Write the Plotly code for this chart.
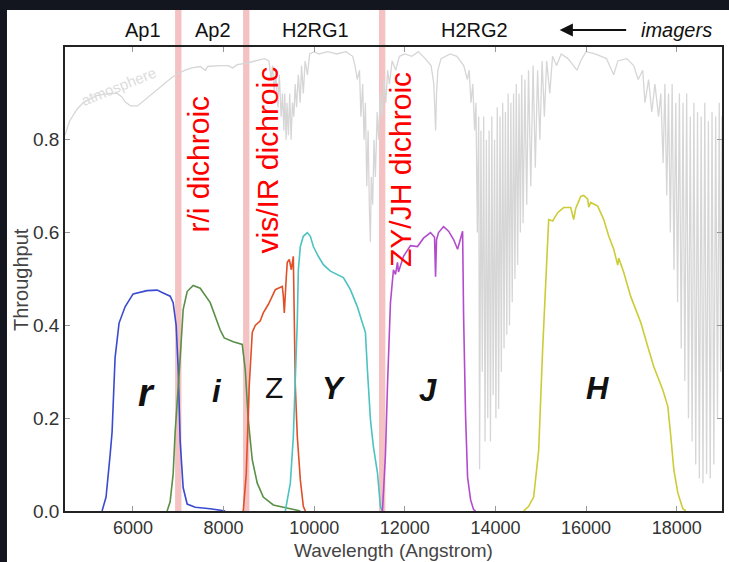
import plotly.graph_objects as go

# ---------------- data ----------------
atm_wl = [4500, 4600, 4765, 4900, 5053, 5200, 5340, 5500, 5649, 5750, 5826, 5950, 6100, 6250, 6400,
          6600, 6750, 6865, 7000, 7152, 7300, 7484, 7600, 7650, 7926, 8100, 8200, 8300, 8500, 8700,
          8900, 9000, 9050, 9080, 9120, 9150, 9200, 9230, 9270, 9300, 9330, 9350, 9380, 9400, 9430,
          9460, 9490, 9520, 9550, 9580, 9610, 9650, 9690, 9720, 9760, 9800, 9850, 9900, 10000, 10100,
          10300, 10500, 10700, 10850, 10900, 10950, 11000, 11030, 11070, 11100, 11130, 11160, 11190,
          11220, 11240, 11260, 11290, 11320, 11350, 11390, 11420, 11460, 11500, 11540, 11580, 11620,
          11660, 11720, 11800, 11880, 12000, 12150, 12300, 12450, 12580, 12640, 12680, 12700, 12730,
          12800, 13000, 13150, 13300, 13380, 13420, 13460, 13500, 13540, 13570, 13600, 13630, 13650,
          13680, 13710, 13740, 13770, 13800, 13830, 13860, 13890, 13920, 13950, 13980, 14010, 14040,
          14070, 14100, 14130, 14160, 14190, 14220, 14250, 14280, 14310, 14340, 14370, 14400, 14430,
          14460, 14490, 14520, 14550, 14580, 14610, 14650, 14690, 14730, 14780, 14830, 14880, 14930,
          14980, 15030, 15080, 15130, 15200, 15260, 15350, 15450, 15600, 15730, 15800, 15880, 16000,
          16200, 16450, 16610, 16700, 16900, 17050, 17150, 17250, 17300, 17380, 17450, 17520, 17600,
          17650, 17700, 17740, 17780, 17820, 17860, 17900, 17940, 17980, 18020, 18060, 18100, 18140,
          18180, 18220, 18260, 18300, 18340, 18380, 18420, 18460, 18500, 18540, 18580, 18620, 18660,
          18700, 18740, 18780, 18820, 18860, 18900, 18940, 18970, 19000]
atm_tr = [0.81, 0.84, 0.866, 0.88, 0.888, 0.895, 0.898, 0.9, 0.9, 0.893, 0.882, 0.873, 0.873, 0.885, 0.898,
          0.915, 0.927, 0.935, 0.943, 0.95, 0.955, 0.958, 0.95, 0.958, 0.96, 0.96, 0.955, 0.962, 0.965, 0.97,
          0.975, 0.97, 0.93, 0.96, 0.9, 0.95, 0.87, 0.94, 0.85, 0.9, 0.82, 0.9, 0.8, 0.88, 0.81,
          0.9, 0.8, 0.88, 0.85, 0.92, 0.87, 0.94, 0.88, 0.96, 0.9, 0.97, 0.94, 0.985, 0.99, 0.985,
          0.99, 0.985, 0.99, 0.98, 0.96, 0.93, 0.95, 0.85, 0.92, 0.8, 0.88, 0.7, 0.82,
          0.64, 0.58, 0.72, 0.66, 0.8, 0.72, 0.86, 0.8, 0.9, 0.85, 0.93, 0.88, 0.95,
          0.92, 0.97, 0.95, 0.98, 0.985, 0.98, 0.99, 0.975, 0.96, 0.92, 0.82, 0.9, 0.95,
          0.975, 0.985, 0.98, 0.96, 0.93, 0.95, 0.88, 0.92, 0.82, 0.88, 0.6, 0.85, 0.09,
          0.82, 0.3, 0.85, 0.15, 0.8, 0.2, 0.82, 0.15, 0.85, 0.25, 0.8, 0.2, 0.87,
          0.22, 0.85, 0.3, 0.88, 0.35, 0.86, 0.38, 0.9, 0.4, 0.88, 0.45, 0.9, 0.5,
          0.92, 0.53, 0.9, 0.6, 0.94, 0.62, 0.93, 0.66, 0.95, 0.7, 0.96, 0.74, 0.95,
          0.8, 0.97, 0.85, 0.97, 0.9, 0.98, 0.96, 0.985, 0.975, 0.96, 0.95, 0.97, 0.99,
          0.985, 0.975, 0.94, 0.97, 0.975, 0.96, 0.93, 0.95, 0.88, 0.93, 0.86, 0.92, 0.85,
          0.9, 0.75, 0.92, 0.68, 0.9, 0.6, 0.92, 0.52, 0.88, 0.45, 0.9, 0.35, 0.88,
          0.28, 0.9, 0.2, 0.85, 0.15, 0.88, 0.1, 0.86, 0.07, 0.85, 0.06, 0.88, 0.08,
          0.84, 0.07, 0.86, 0.1, 0.85, 0.2, 0.88, 0.3, 0.85]

r_wl = [5318, 5406, 5495, 5539, 5605, 5693, 5826, 6003, 6312, 6533, 6666, 6821, 6887, 6953, 6997,
        7042, 7108, 7196, 7373, 7705, 8036]
r_tr = [0.0, 0.03, 0.12, 0.17, 0.33, 0.405, 0.44, 0.468, 0.475, 0.476, 0.47, 0.463, 0.449, 0.40, 0.31,
        0.15, 0.05, 0.015, 0.008, 0.005, 0.0]

i_wl = [6754, 6820, 6887, 6931, 7042, 7108, 7196, 7329, 7484, 7705, 7926, 8014, 8213, 8412, 8478,
        8544, 8633, 8743, 8876, 9097, 9473, 9694]
i_tr = [0.0, 0.02, 0.08, 0.17, 0.33, 0.434, 0.473, 0.486, 0.48, 0.449, 0.39, 0.373, 0.365, 0.359, 0.305,
        0.197, 0.11, 0.06, 0.03, 0.013, 0.005, 0.0]

z_wl = [8434, 8500, 8566, 8633, 8699, 8810, 8876, 8986, 9075, 9141, 9207, 9296, 9318, 9340, 9384,
        9406, 9450, 9495, 9539, 9561, 9583, 9627, 9694, 9760, 9804]
z_tr = [0.0, 0.08, 0.27, 0.385, 0.40, 0.41, 0.427, 0.445, 0.463, 0.477, 0.48, 0.484, 0.463, 0.427, 0.505,
        0.536, 0.542, 0.52, 0.549, 0.41, 0.27, 0.16, 0.067, 0.01, 0.0]

y_wl = [9362, 9473, 9539, 9583, 9627, 9650, 9694, 9760, 9848, 9915, 9981, 10091, 10202, 10357, 10512,
        10644, 10799, 10953, 11064, 11130, 11174, 11241, 11307, 11396, 11462, 11506]
y_tr = [0.0, 0.06, 0.16, 0.27, 0.41, 0.52, 0.57, 0.592, 0.60, 0.592, 0.57, 0.549, 0.531, 0.517, 0.51,
        0.503, 0.477, 0.44, 0.405, 0.385, 0.305, 0.197, 0.138, 0.082, 0.009, 0.0]

j_wl = [11506, 11572, 11617, 11683, 11749, 11794, 11838, 11860, 11971, 12125, 12280, 12412, 12567,
        12656, 12678, 12700, 12744, 12855, 12966, 13076, 13165, 13209, 13275, 13297, 13341, 13385,
        13452, 13518, 13562]
j_tr = [0.0, 0.12, 0.27, 0.449, 0.52, 0.51, 0.536, 0.515, 0.549, 0.572, 0.57, 0.588, 0.60,
        0.59, 0.505, 0.585, 0.60, 0.613, 0.603, 0.585, 0.564, 0.58, 0.603, 0.42, 0.203, 0.073,
        0.024, 0.003, 0.0]

h_wl = [14622, 14733, 14843, 14954, 15042, 15108, 15152, 15175, 15263, 15373, 15506, 15661, 15727,
        15771, 15882, 15948, 16037, 16059, 16103, 16257, 16390, 16501, 16611, 16699, 16722, 16832,
        16987, 17208, 17363, 17495, 17694, 17805, 17871, 17937, 18025, 18136, 18202]
h_tr = [0.0, 0.01, 0.03, 0.13, 0.35, 0.49, 0.60, 0.628, 0.625, 0.643, 0.654, 0.654, 0.628,
        0.652, 0.678, 0.68, 0.672, 0.655, 0.665, 0.657, 0.628, 0.592, 0.564, 0.53, 0.545, 0.514,
        0.462, 0.406, 0.354, 0.311, 0.261, 0.225, 0.16, 0.089, 0.039, 0.005, 0.0]

dichroic_wl = [7000, 8500, 11500]
dichroic_labels = ["r/i dichroic", "vis/IR dichroic", "ZY/JH dichroic"]
dichroic_label_x = [7440, 8964, 11904]
dichroic_label_y = [0.747, 0.756, 0.736]

band_names = ["r", "i", "Z", "Y", "J", "H"]
band_label_x = [6290, 7859, 9119, 10445, 12522, 16257]
band_label_y = [0.255, 0.257, 0.266, 0.263, 0.26, 0.263]

camera_names = ["Ap1", "Ap2", "H2RG1", "H2RG2"]
camera_x = [6224, 7771, 10025, 13539]

x_ticks = [6000, 8000, 10000, 12000, 14000, 16000, 18000]
x_ticktext = ["6000", "8000", "10000", "12000", "14000", "16000", "18000"]
y_ticks = [0.0, 0.2, 0.4, 0.6, 0.8]
y_ticktext = ["0.0", "0.2", "0.4", "0.6", "0.8"]

x_title = "Wavelength (Angstrom)"
y_title = "Throughput"

# ---------------- figure ----------------
FONT = "Liberation Sans, Arial, sans-serif"
fig = go.Figure()

fig.add_trace(go.Scatter(x=atm_wl, y=atm_tr, mode="lines",
                         line=dict(color="#d6d6d6", width=1.3), hoverinfo="skip"))

filters = [
    (r_wl, r_tr, "#3a4bd0"),
    (i_wl, i_tr, "#5a8f48"),
    (z_wl, z_tr, "#e05028"),
    (y_wl, y_tr, "#4cc2c2"),
    (j_wl, j_tr, "#b24ccc"),
    (h_wl, h_tr, "#cccc38"),
]
for wl, tr, col in filters:
    fig.add_trace(go.Scatter(x=wl, y=tr, mode="lines", line=dict(color=col, width=1.6)))

shapes = []
# dark frame of the screenshot
shapes.append(dict(type="rect", xref="paper", yref="paper", x0=-0.1, x1=-0.0883, y0=-0.12, y1=1.11,
                   fillcolor="#13151f", line=dict(width=0), layer="above"))
shapes.append(dict(type="rect", xref="paper", yref="paper", x0=-0.1, x1=1.02, y0=1.0797, y1=1.11,
                   fillcolor="#13151f", line=dict(width=0), layer="above"))
for wl in dichroic_wl:
    shapes.append(dict(type="rect", xref="x", yref="paper", x0=wl - 70, x1=wl + 70, y0=0, y1=1.0797,
                       fillcolor="#f0a8a8", opacity=0.7, line=dict(width=0), layer="below"))

annotations = []
for lab, lx, ly in zip(dichroic_labels, dichroic_label_x, dichroic_label_y):
    annotations.append(dict(x=lx, y=ly, xref="x", yref="y", text=lab, showarrow=False, textangle=-90,
                            xanchor="center", yanchor="middle",
                            font=dict(family=FONT, size=30, color="#ff0000")))
for name, bx, by in zip(band_names, band_label_x, band_label_y):
    if name == "Z":
        txt = "Z"
        sz = 30
    else:
        txt = "<b><i>%s</i></b>" % name
        sz = 38 if name == "r" else 31
    annotations.append(dict(x=bx, y=by, xref="x", yref="y", text=txt, showarrow=False,
                            xanchor="center", yanchor="middle",
                            font=dict(family=FONT, size=sz, color="#111111")))
for name, cx in zip(camera_names, camera_x):
    annotations.append(dict(x=cx, y=1.0366, xref="x", yref="paper", text=name, showarrow=False,
                            xanchor="center", yanchor="middle",
                            font=dict(family=FONT, size=20, color="#111111")))
# arrow "<--- imagers"
annotations.append(dict(x=15417, y=1.0366, xref="x", yref="paper", text="", showarrow=True,
                        ax=68, ay=0, axref="pixel", ayref="pixel", arrowhead=2, arrowsize=1.2,
                        arrowwidth=2.2, arrowcolor="#111111"))
annotations.append(dict(x=18003, y=1.0366, xref="x", yref="paper", text="<i>imagers</i>", showarrow=False,
                        xanchor="center", yanchor="middle",
                        font=dict(family=FONT, size=20, color="#111111")))
annotations.append(dict(x=5671, y=0.915, xref="x", yref="y", text="atmosphere", showarrow=False,
                        textangle=-22, xanchor="center", yanchor="middle",
                        font=dict(family=FONT, size=15, color="#dcdcdc")))
# axis titles
annotations.append(dict(x=0.5, y=-0.0862, xref="paper", yref="paper", text=x_title, showarrow=False,
                        xanchor="center", yanchor="middle",
                        font=dict(family=FONT, size=19, color="#444444")))
annotations.append(dict(x=-0.067, y=0.50, xref="paper", yref="paper", text=y_title, showarrow=False,
                        textangle=-90, xanchor="center", yanchor="middle",
                        font=dict(family=FONT, size=20, color="#444444")))

fig.update_layout(
    width=729, height=562,
    margin=dict(l=65, r=7, t=47, b=51, pad=0),
    paper_bgcolor="#ffffff", plot_bgcolor="#ffffff",
    showlegend=False,
    shapes=shapes, annotations=annotations,
    font=dict(family=FONT, color="#333333"),
)
fig.update_xaxes(range=[4500, 19000], tickvals=x_ticks, ticktext=x_ticktext, ticks="inside", ticklen=5,
                 tickcolor="#999999", showline=True, linecolor="#222222", linewidth=1.6, mirror="ticks",
                 showgrid=False, zeroline=False, tickfont=dict(family=FONT, size=18, color="#333333"),
                 automargin=False)
fig.update_yaxes(range=[0, 1.0], tickvals=y_ticks, ticktext=y_ticktext, ticks="inside", ticklen=5,
                 tickcolor="#999999", showline=True, linecolor="#222222", linewidth=1.6, mirror="ticks",
                 showgrid=False, zeroline=False, tickfont=dict(family=FONT, size=19, color="#333333"),
                 automargin=False)

fig.write_html("out.html", config={"displayModeBar": False},
               post_script="document.body.style.margin='0';document.body.style.overflow='hidden';")
